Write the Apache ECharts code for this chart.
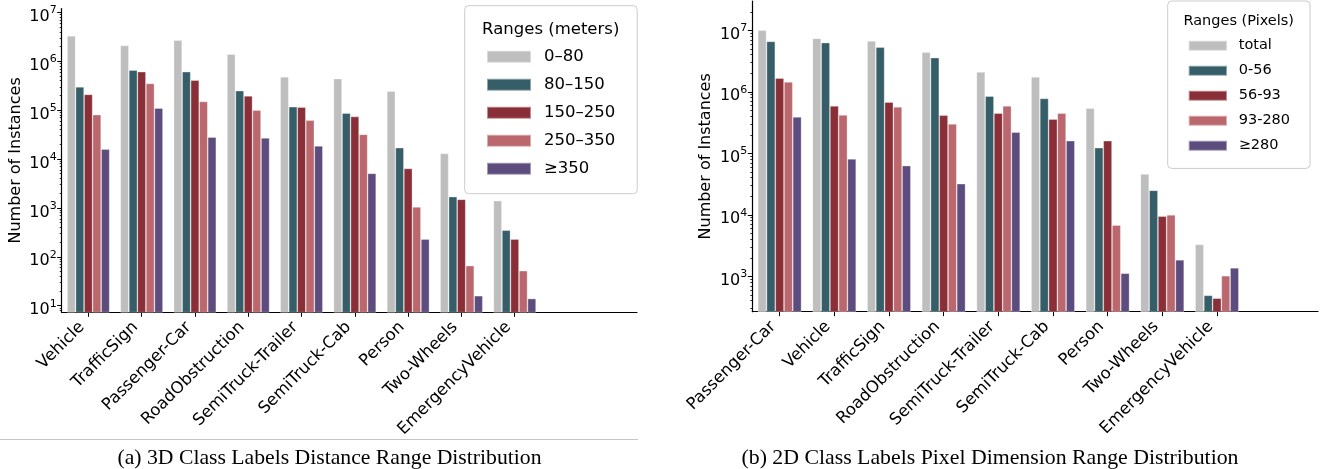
<!DOCTYPE html>
<html>
<head>
<meta charset="utf-8">
<script src="https://cdn.jsdelivr.net/npm/echarts@6/dist/echarts.min.js"></script>
<style>
  html, body { margin: 0; padding: 0; background: #ffffff; }
  #chart { width: 1320px; height: 469px; }
</style>
</head>
<body>
<div id="chart"></div>
<script>
// ---- 3D class labels: instances per distance range (meters) ----
const classes3d = ['Vehicle', 'TrafficSign', 'Passenger-Car', 'RoadObstruction', 'SemiTruck-Trailer',
  'SemiTruck-Cab', 'Person', 'Two-Wheels', 'EmergencyVehicle'];
const ranges3d = ['0–80', '80–150', '150–250', '250–350', '≥350'];
const dist0to80    = [3.3e6, 2.1e6, 2.7e6, 1.4e6, 4.8e5, 4.4e5, 2.45e5, 1.3e4, 1.4e3];
const dist80to150  = [3.0e5, 6.6e5, 6.1e5, 2.5e5, 1.17e5, 8.7e4, 1.7e4, 1.7e3, 350];
const dist150to250 = [2.1e5, 6.1e5, 4.1e5, 1.96e5, 1.15e5, 7.4e4, 6.4e3, 1.5e3, 230];
const dist250to350 = [8.1e4, 3.5e5, 1.5e5, 1.0e5, 6.2e4, 3.2e4, 1.05e3, 66, 52];
const dist350up    = [1.6e4, 1.1e5, 2.8e4, 2.7e4, 1.86e4, 5.1e3, 230, 16, 14];

// ---- 2D class labels: instances per pixel dimension range ----
const classes2d = ['Passenger-Car', 'Vehicle', 'TrafficSign', 'RoadObstruction', 'SemiTruck-Trailer',
  'SemiTruck-Cab', 'Person', 'Two-Wheels', 'EmergencyVehicle'];
const ranges2d = ['total', '0-56', '56-93', '93-280', '≥280'];
const pxTotal   = [1.0e7, 7.4e6, 6.7e6, 4.4e6, 2.1e6, 1.74e6, 5.4e5, 4.6e4, 3.3e3];
const px0to56   = [6.6e6, 6.3e6, 5.3e6, 3.6e6, 8.5e5, 7.8e5, 1.23e5, 2.5e4, 490];
const px56to93  = [1.67e6, 5.9e5, 6.8e5, 4.15e5, 4.5e5, 3.6e5, 1.6e5, 9.5e3, 440];
const px93to280 = [1.45e6, 4.2e5, 5.7e5, 3.0e5, 5.9e5, 4.5e5, 6.8e3, 1.0e4, 1.02e3];
const px280up   = [3.9e5, 8.1e4, 6.3e4, 3.2e4, 2.2e5, 1.6e5, 1.12e3, 1.85e3, 1.37e3];

// ---- y tick exponents (labels read 10^n) ----
const yExp3d = [1, 2, 3, 4, 5, 6, 7];
const yExp2d = [3, 4, 5, 6, 7];

const captions = ['(a) 3D Class Labels Distance Range Distribution',
  '(b) 2D Class Labels Pixel Dimension Range Distribution'];
const legendTitles = ['Ranges (meters)', 'Ranges (Pixels)'];

const palette = ['#bebebe', '#365e68', '#8a2f37', '#ba686e', '#5d4c7e'];
const FONT = 'DejaVu Sans';

// axis extents (log axes in value space, x axes in category index space)
const yRange3d = [Math.pow(10, 0.865), Math.pow(10, 7.078)];
const yRange2d = [Math.pow(10, 2.424), Math.pow(10, 7.476)];
const xRange3d = [-0.5, 10.294];
const xRange2d = [-0.5, 9.848];

function minorTicks(lo, hi) {
  const out = [];
  for (let e = Math.floor(Math.log10(lo)); e <= Math.ceil(Math.log10(hi)); e++) {
    for (let m = 2; m <= 9; m++) {
      const v = m * Math.pow(10, e);
      if (v >= lo && v <= hi) out.push(v);
    }
  }
  return out;
}

const supRich = {
  b: { fontFamily: FONT, fontSize: 16, color: '#000', lineHeight: 20, verticalAlign: 'bottom' },
  s: { fontFamily: FONT, fontSize: 11, color: '#000', lineHeight: 12, verticalAlign: 'top' }
};

function yAxes(gridIndex, range, exps) {
  const major = exps.map(e => Math.pow(10, e));
  return [
    {
      type: 'log', logBase: 10, gridIndex, min: range[0], max: range[1], position: 'left',
      name: 'Number of Instances', nameLocation: 'middle', nameGap: 38,
      nameTextStyle: { fontFamily: FONT, fontSize: 16, color: '#000' },
      axisLine: { show: true, onZero: false, lineStyle: { color: '#000', width: 1.2 } },
      axisTick: { show: true, length: 4.5, lineStyle: { color: '#000', width: 1 }, customValues: major },
      axisLabel: {
        customValues: major, margin: 5, padding: [5, 0, 0, 0],
        formatter: v => '{b|10}{s|' + Math.round(Math.log10(v)) + '}',
        rich: supRich
      },
      splitLine: { show: false }, minorTick: { show: false }
    },
    {
      type: 'log', logBase: 10, gridIndex, min: range[0], max: range[1], position: 'left', offset: 0,
      axisLine: { show: false, onZero: false },
      axisTick: { show: true, length: 2, lineStyle: { color: '#000', width: 0.8 }, customValues: minorTicks(range[0], range[1]) },
      axisLabel: { show: false },
      splitLine: { show: false }
    }
  ];
}

function xAxis(gridIndex, range, names) {
  const idx = names.map((_, i) => i);
  return {
    type: 'value', gridIndex, min: range[0], max: range[1], position: 'bottom',
    axisLine: { show: true, onZero: false, lineStyle: { color: '#000', width: 1.2 } },
    axisTick: { show: true, length: 4.5, lineStyle: { color: '#000', width: 1 }, customValues: idx },
    axisLabel: {
      customValues: idx, rotate: 45, margin: 6, padding: [0, 9, 0, 0],
      fontFamily: FONT, fontSize: 16.5, color: '#000',
      formatter: v => names[Math.round(v)]
    },
    splitLine: { show: false }
  };
}

function barSeries(name, values, colorIdx, axisIdx) {
  return {
    type: 'bar', name,
    xAxisIndex: axisIdx, yAxisIndex: axisIdx * 2,
    data: values.map((v, i) => [i, v]),
    barGap: '0%', barCategoryGap: '20%',
    clip: true,
    itemStyle: { color: palette[colorIdx], borderColor: 'rgba(255,255,255,0.45)', borderWidth: 0.7 },
    emphasis: { disabled: true }
  };
}

const series3d = [dist0to80, dist80to150, dist150to250, dist250to350, dist350up]
  .map((vals, k) => barSeries(ranges3d[k], vals, k, 0));
const series2d = [pxTotal, px0to56, px56to93, px93to280, px280up]
  .map((vals, k) => barSeries(ranges2d[k], vals, k, 1));

const legendBase = {
  orient: 'vertical', selectedMode: false, icon: 'rect',
  borderColor: '#cccccc', borderWidth: 1, borderRadius: 4,
  backgroundColor: 'rgba(255,255,255,0.8)'
};

const option = {
  animation: false,
  backgroundColor: '#ffffff',
  grid: [
    { left: 61.7, top: 8.5, width: 575.3, height: 303.8, containLabel: false, outerBoundsMode: 'none' },
    { left: 752.3, top: 1, width: 565.7, height: 310.7, containLabel: false, outerBoundsMode: 'none' }
  ],
  xAxis: [xAxis(0, xRange3d, classes3d), xAxis(1, xRange2d, classes2d)],
  yAxis: [...yAxes(0, yRange3d, yExp3d), ...yAxes(1, yRange2d, yExp2d)],
  legend: [
    Object.assign({}, legendBase, {
      data: ranges3d, left: 464.7, top: 5.7,
      padding: [42, 22, 16, 21.3], itemGap: 10, itemWidth: 44, itemHeight: 12,
      textStyle: { fontFamily: FONT, fontSize: 16.5, color: '#000', lineHeight: 18, padding: [0, 0, 0, 8] }
    }),
    Object.assign({}, legendBase, {
      data: ranges2d, left: 1167.7, top: 1,
      padding: [36.7, 20, 14.7, 20], itemGap: 9, itemWidth: 38.3, itemHeight: 10,
      textStyle: { fontFamily: FONT, fontSize: 14.5, color: '#000', lineHeight: 16, padding: [0, 0, 0, 6.7] }
    })
  ],
  graphic: [
    { type: 'text', z: 100, style: { text: legendTitles[0], x: 550.7, y: 30, align: 'center', verticalAlign: 'middle',
      font: '16.5px "' + FONT + '"', fill: '#000' } },
    { type: 'text', z: 100, style: { text: legendTitles[1], x: 1238.7, y: 21.7, align: 'center', verticalAlign: 'middle',
      font: '14.5px "' + FONT + '"', fill: '#000' } },
    { type: 'line', shape: { x1: 0, y1: 439.5, x2: 638, y2: 439.5 }, style: { stroke: '#c4c4c4', lineWidth: 1 } },
    { type: 'text', style: { text: captions[0], x: 329.5, y: 458, align: 'center', verticalAlign: 'middle',
      font: '21.7px "Liberation Serif"', fill: '#000' } },
    { type: 'text', style: { text: captions[1], x: 990, y: 458, align: 'center', verticalAlign: 'middle',
      font: '21.8px "Liberation Serif"', fill: '#000' } }
  ],
  series: [...series3d, ...series2d]
};

const chart = echarts.init(document.getElementById('chart'), null, { renderer: 'canvas' });
chart.setOption(option);
</script>
</body>
</html>
